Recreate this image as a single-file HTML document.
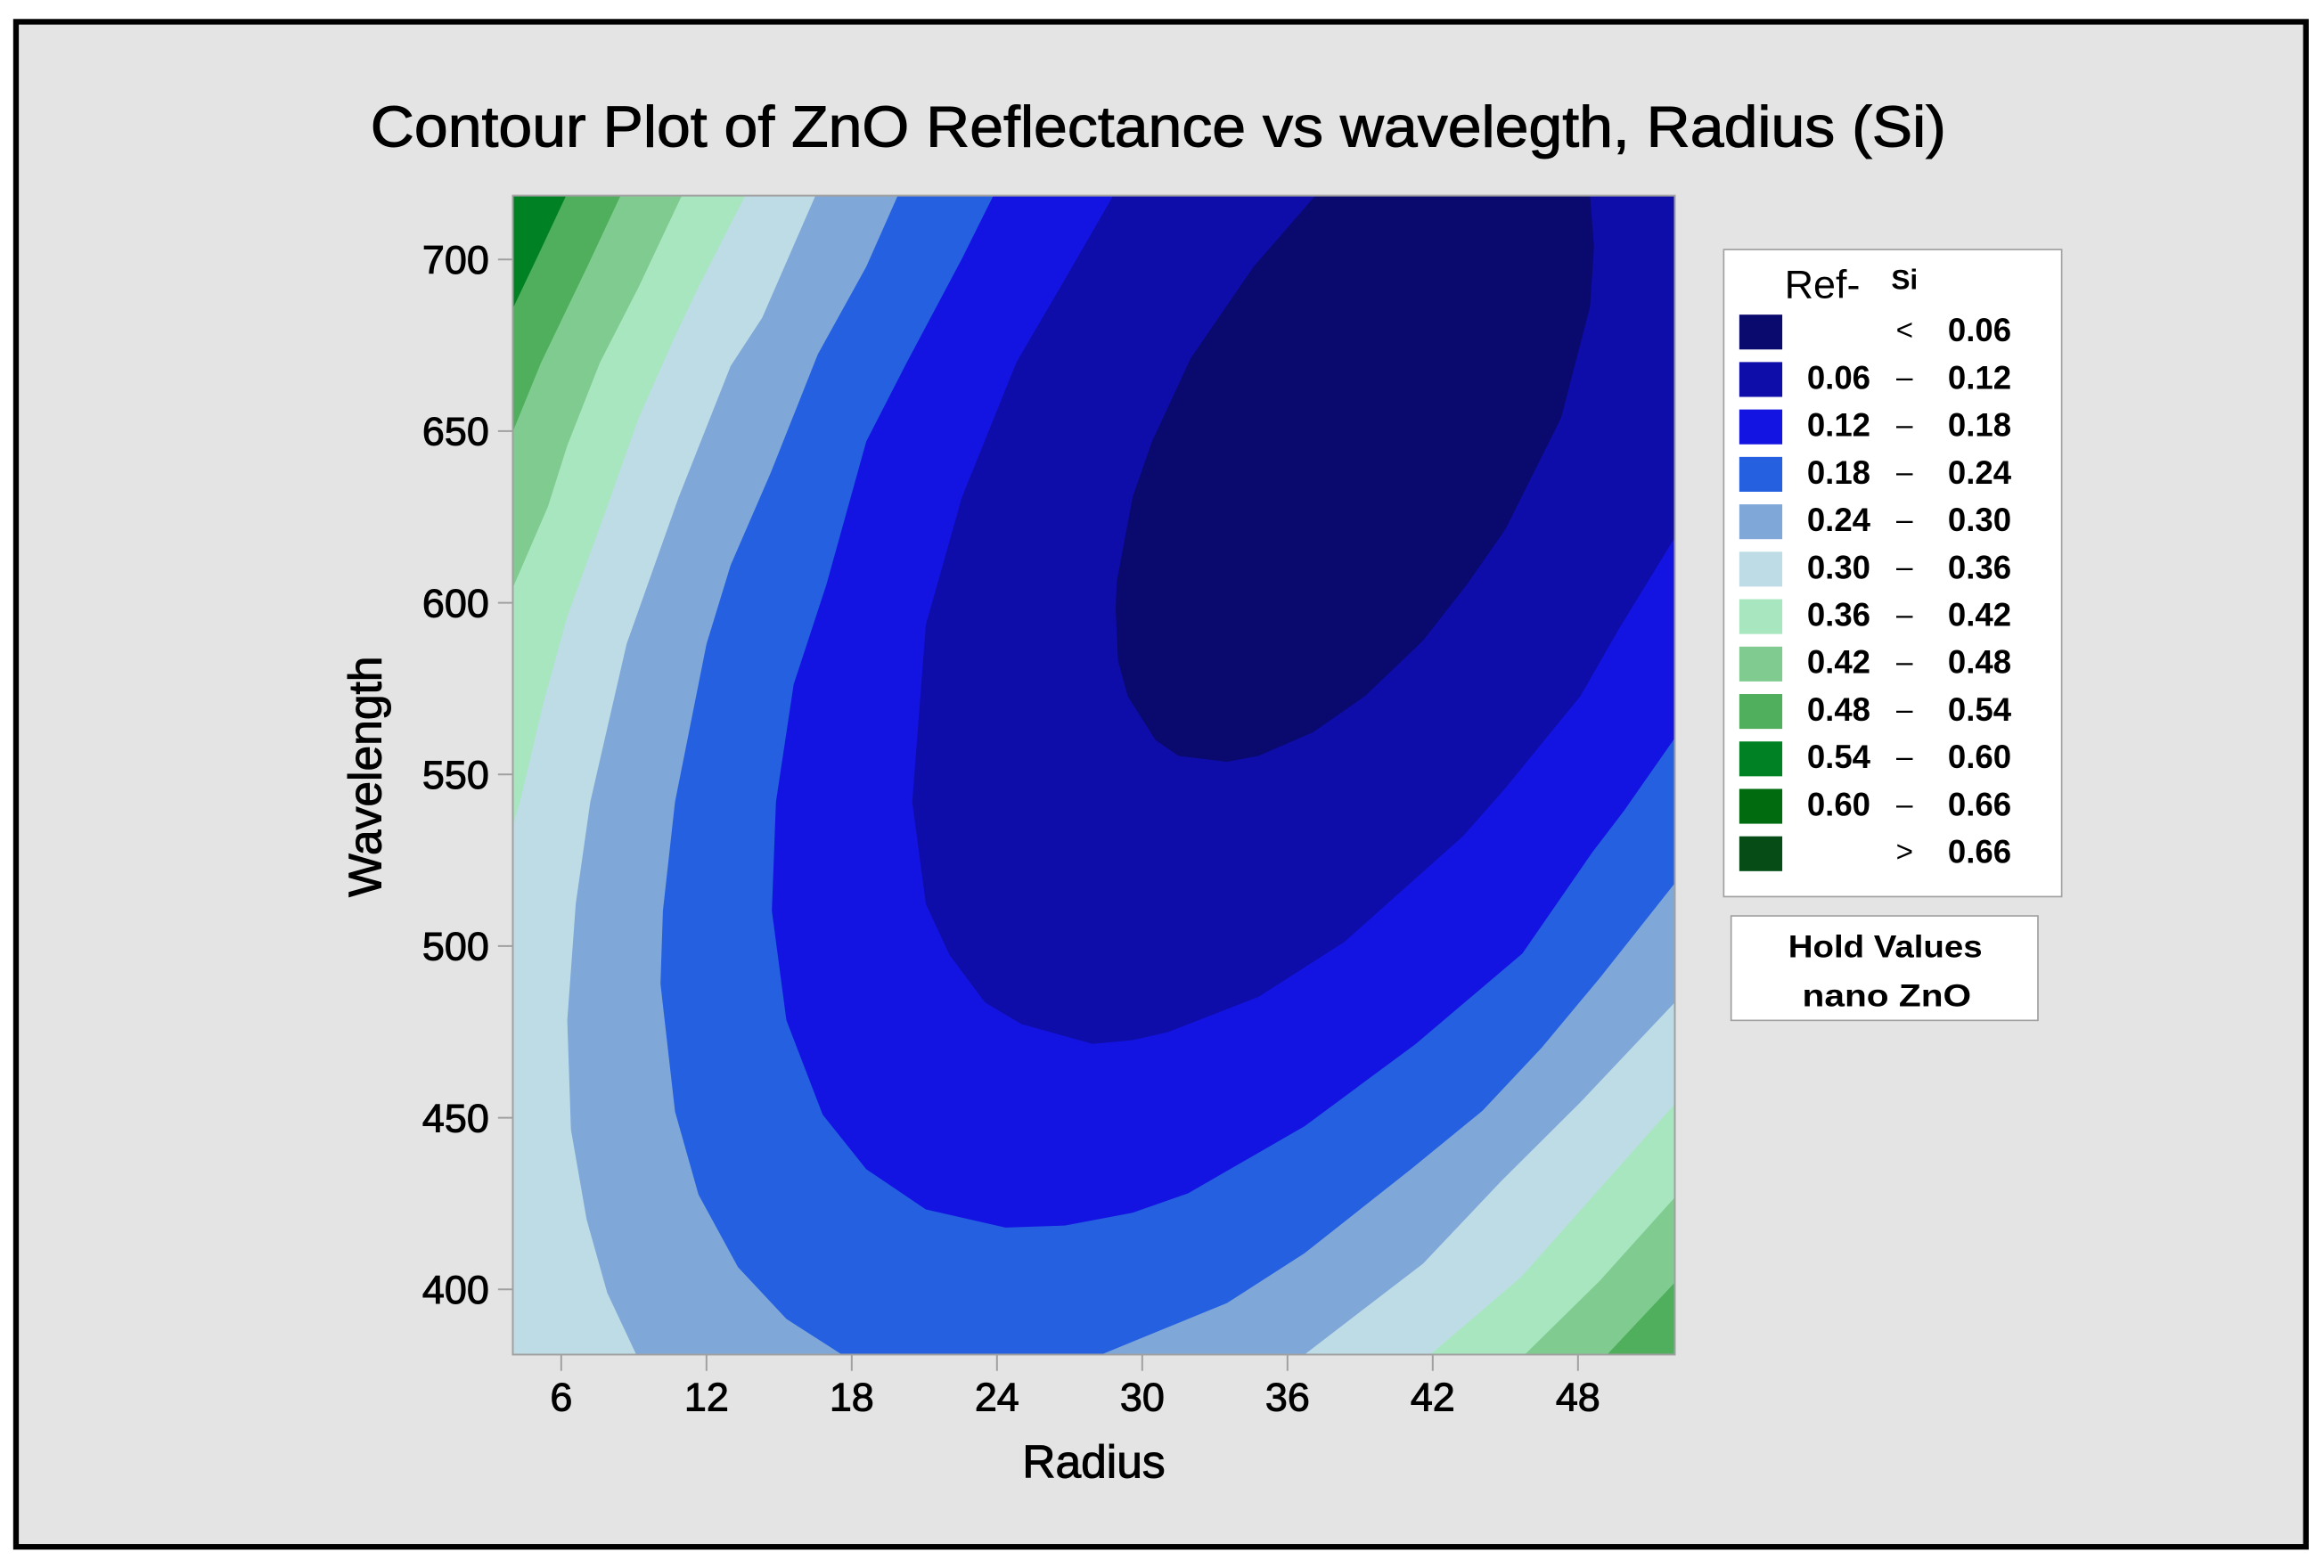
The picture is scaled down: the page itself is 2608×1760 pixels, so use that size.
<!DOCTYPE html>
<html>
<head>
<meta charset="utf-8">
<style>
html,body{margin:0;padding:0;background:#ffffff;}
svg{display:block;}
text{font-family:"Liberation Sans",sans-serif;fill:#000;}
.heavy{stroke:#000;stroke-width:0.6;}
</style>
</head>
<body>
<svg id="chart" width="2608" height="1760" viewBox="0 0 1568 1058" preserveAspectRatio="none" xmlns="http://www.w3.org/2000/svg">
  <rect x="0" y="0" width="1568" height="1058" fill="#ffffff"/>
  <rect x="10.8" y="14.7" width="1545" height="1029" fill="#e4e4e4" stroke="#000" stroke-width="3.8"/>
  <text class="heavy" x="250" y="99" font-size="39" textLength="1063" lengthAdjust="spacingAndGlyphs">Contour Plot of ZnO Reflectance vs wavelegth, Radius (Si)</text>
  <g id="plot"></g>
  <g id="axes"></g>
  <text class="heavy" x="738" y="997" font-size="31" text-anchor="middle">Radius</text>
  <text class="heavy" x="0" y="0" font-size="31" text-anchor="middle" transform="translate(257,524) rotate(-90)">Wavelength</text>
  <g id="legend">
    <rect x="1163" y="168.4" width="228" height="436.6" fill="#fff" stroke="#a0a0a0" stroke-width="1"/>
    <text x="1204" y="201" font-size="27">Ref-</text>
    <text x="1276" y="195" font-size="19" font-weight="bold">Si</text>
  </g>
  <g>
    <rect x="1168" y="618" width="207" height="70.5" fill="#fff" stroke="#a0a0a0" stroke-width="1"/>
    <text x="1272" y="646" font-size="21" font-weight="bold" text-anchor="middle" textLength="131" lengthAdjust="spacingAndGlyphs">Hold Values</text>
    <text x="1273" y="679" font-size="21" font-weight="bold" text-anchor="middle" textLength="114" lengthAdjust="spacingAndGlyphs">nano  ZnO</text>
  </g>
</svg>
<script>
// ---- axis domain ----
const radiusDomain = [4, 52];
const waveDomain = [381, 718.6];
const xTicks = [6, 12, 18, 24, 30, 36, 42, 48];
const yTicks = [400, 450, 500, 550, 600, 650, 700];

// ---- legend ----
const legendLow = ["", "0.06", "0.12", "0.18", "0.24", "0.30", "0.36", "0.42", "0.48", "0.54", "0.60", ""];
const legendHigh = ["0.06", "0.12", "0.18", "0.24", "0.30", "0.36", "0.42", "0.48", "0.54", "0.60", "0.66", "0.66"];
const legendSep = ["<", "–", "–", "–", "–", "–", "–", "–", "–", "–", "–", ">"];
const bandColors = ["#0a096e", "#0e0daa", "#1414e2", "#2460e0", "#7fa7d8", "#bedce6", "#a8e6c0", "#80cc90", "#50af5c", "#008224", "#006b0f", "#054c17"];

// ---- contour lines, [radius, wavelength] ----
const c054 = [[6.2,718.6],[5.1,702],[3.98,685.4]];
const c048L = [[8.45,718.6],[7.07,697.8],[5.17,670],[3.98,649.5]];
const c048R = [[49.2,381],[52,402]];
const c042L = [[10.98,718.6],[9.2,692],[7.6,670],[6.25,645.8],[5.45,628],[3.98,604]];
const c042R = [[45.8,381],[48.9,402.5],[52,426.8]];
const c036L = [[13.6,718.6],[11.67,692],[10.66,677],[9.2,653.8],[7.9,628],[6.25,596],[5.25,570.4],[4.3,542],[3.98,535]];
const c036R = [[41.9,381],[45.65,403.6],[48.9,429.4],[52,454]];
const c030L = [[16.5,718.6],[14.3,683],[13.0,669],[10.85,630.7],[8.7,588],[7.2,542],[6.6,512.3],[6.25,478.4],[6.4,446.6],[7.05,420.3],[7.9,399],[9.1,381]];
const c030R = [[36.7,381],[41.6,407.5],[44.85,431.7],[48.1,454.5],[52,483.6]];
const c024L = [[19.9,718.6],[18.6,697.9],[16.6,672.4],[14.65,637.8],[13.0,611],[12.0,588],[10.7,542],[10.2,510.3],[10.1,489],[10.7,451.8],[11.67,427.6],[13.3,406.5],[15.3,391.4],[17.6,381]];
const c024R = [[28.3,381],[33.5,396],[36.7,410.5],[41.1,435],[44.05,452],[46.5,470.4],[48.9,490.7],[52,518.3]];
const c018 = [[23.85,718.6],[22.55,700.2],[20.2,669],[18.6,647],[16.95,605.2],[15.6,576.2],[14.87,542],[14.7,510.3],[15.3,478.4],[16.8,450.9],[18.6,435],[21.06,423.3],[24.35,418],[26.8,418.6],[29.6,422.3],[31.9,428],[36.7,447.5],[41.3,471.5],[45.7,497.8],[48.6,527.4],[49.9,539.4],[52,560.6]];
const c012 = [[28.8,718.6],[27.0,696.6],[24.8,670],[22.55,630.7],[21.06,593.6],[20.5,542],[21.06,512.3],[22.04,497.4],[23.5,483.6],[25.0,477.3],[27.95,471.5],[29.6,472.6],[31.05,474.9],[34.8,485.2],[38.35,501.2],[43.25,532],[45.0,546],[48.1,572.8],[49.7,592.5],[52,619]];
const c006 = [[37.15,718.6],[34.6,697.9],[32.0,671.2],[30.4,646.9],[29.6,630.7],[28.95,606.3],[28.9,598.3],[29.0,583.2],[29.4,572.8],[30.55,560],[31.5,555.4],[33.5,553.7],[34.8,555.4],[37.06,562.3],[39.2,572.8],[41.6,589],[43.4,605.2],[45.0,621.4],[47.3,653.8],[48.5,686.3],[48.66,703.7],[48.5,718.6]];

// sublevel regions (value < level), drawn from high to low
const regionLevels = ["0.54", "0.48", "0.42", "0.36", "0.30", "0.24", "0.18", "0.12", "0.06"];
const regionPieces = [
  [c054, "BL", "BR", "TR"],
  [c048L, "BL", c048R, "TR"],
  [c042L, "BL", c042R, "TR"],
  [c036L, "BL", c036R, "TR"],
  [c030L, c030R, "TR"],
  [c024L, c024R, "TR"],
  [c018, "TR"],
  [c012, "TR"],
  [c006]
];
const regionColorIdx = [8, 7, 6, 5, 4, 3, 2, 1, 0];
const baseColorIdx = 9;

// ---- layout ----
const PL = 346, PR = 1130, PT = 132, PB = 914;
function X(r){ return PL + (r - radiusDomain[0]) / (radiusDomain[1] - radiusDomain[0]) * (PR - PL); }
function Y(w){ return PB - (w - waveDomain[0]) / (waveDomain[1] - waveDomain[0]) * (PB - PT); }
const NS = "http://www.w3.org/2000/svg";
function mk(tag, attrs, parent){
  const e = document.createElementNS(NS, tag);
  for (const k in attrs) e.setAttribute(k, attrs[k]);
  parent.appendChild(e);
  return e;
}
const corners = {
  BL: [radiusDomain[0], waveDomain[0]],
  BR: [radiusDomain[1], waveDomain[0]],
  TR: [radiusDomain[1], waveDomain[1]],
  TL: [radiusDomain[0], waveDomain[1]]
};

const plot = document.getElementById("plot");
const clip = mk("clipPath", {id: "plotClip"}, mk("defs", {}, plot));
mk("rect", {x: PL, y: PT, width: PR - PL, height: PB - PT}, clip);
const g = mk("g", {"clip-path": "url(#plotClip)"}, plot);

const base = mk("rect", {x: PL, y: PT, width: PR - PL, height: PB - PT, fill: bandColors[baseColorIdx]}, g);



regionPieces.forEach(function(pieces, i){
  const pts = [];
  pieces.forEach(function(p){
    if (typeof p === "string") pts.push(corners[p]);
    else p.forEach(function(q){ pts.push(q); });
  });
  const d = pts.map(function(q){ return X(q[0]).toFixed(2) + "," + Y(q[1]).toFixed(2); }).join(" ");
  const poly = mk("polygon", {points: d, fill: bandColors[regionColorIdx[i]]}, g);
  
  
});

const border = mk("rect", {x: PL, y: PT, width: PR - PL, height: PB - PT, fill: "none", stroke: "#a0a0a0", "stroke-width": 1.2}, plot);



// ---- axes ----
const axes = document.getElementById("axes");
xTicks.forEach(function(t){
  const x = X(t);
  const tk = mk("line", {x1: x, y1: PB, x2: x, y2: PB + 11, stroke: "#a0a0a0", "stroke-width": 1.2}, axes);
  
  
  const lb = mk("text", {x: x, y: 952, "font-size": 27, "text-anchor": "middle", "class": "heavy"}, axes);
  lb.textContent = t;
  
  
});
yTicks.forEach(function(t){
  const y = Y(t);
  const tk = mk("line", {x1: PL - 10, y1: y, x2: PL, y2: y, stroke: "#a0a0a0", "stroke-width": 1.2}, axes);
  
  
  const lb = mk("text", {x: 330, y: y + 9.5, "font-size": 27, "text-anchor": "end", "class": "heavy"}, axes);
  lb.textContent = t;
  
  
});

// ---- legend ----
const legend = document.getElementById("legend");
legendHigh.forEach(function(h, i){
  const top = 212.3 + i * 32;
  const sw = mk("rect", {x: 1173.5, y: top, width: 29, height: 23.5, fill: bandColors[i]}, legend);
  
  
  if (legendLow[i]) {
    const lo = mk("text", {x: 1262, y: top + 18, "font-size": 22, "font-weight": "bold", "text-anchor": "end"}, legend);
    lo.textContent = legendLow[i];
    
    
  }
  const sp = mk("text", {x: 1285, y: top + 17, "font-size": 20, "text-anchor": "middle"}, legend);
  sp.textContent = legendSep[i];
  
  
  const hi = mk("text", {x: 1357, y: top + 18, "font-size": 22, "font-weight": "bold", "text-anchor": "end"}, legend);
  hi.textContent = h;
  
  
});
</script>
</body>
</html>
